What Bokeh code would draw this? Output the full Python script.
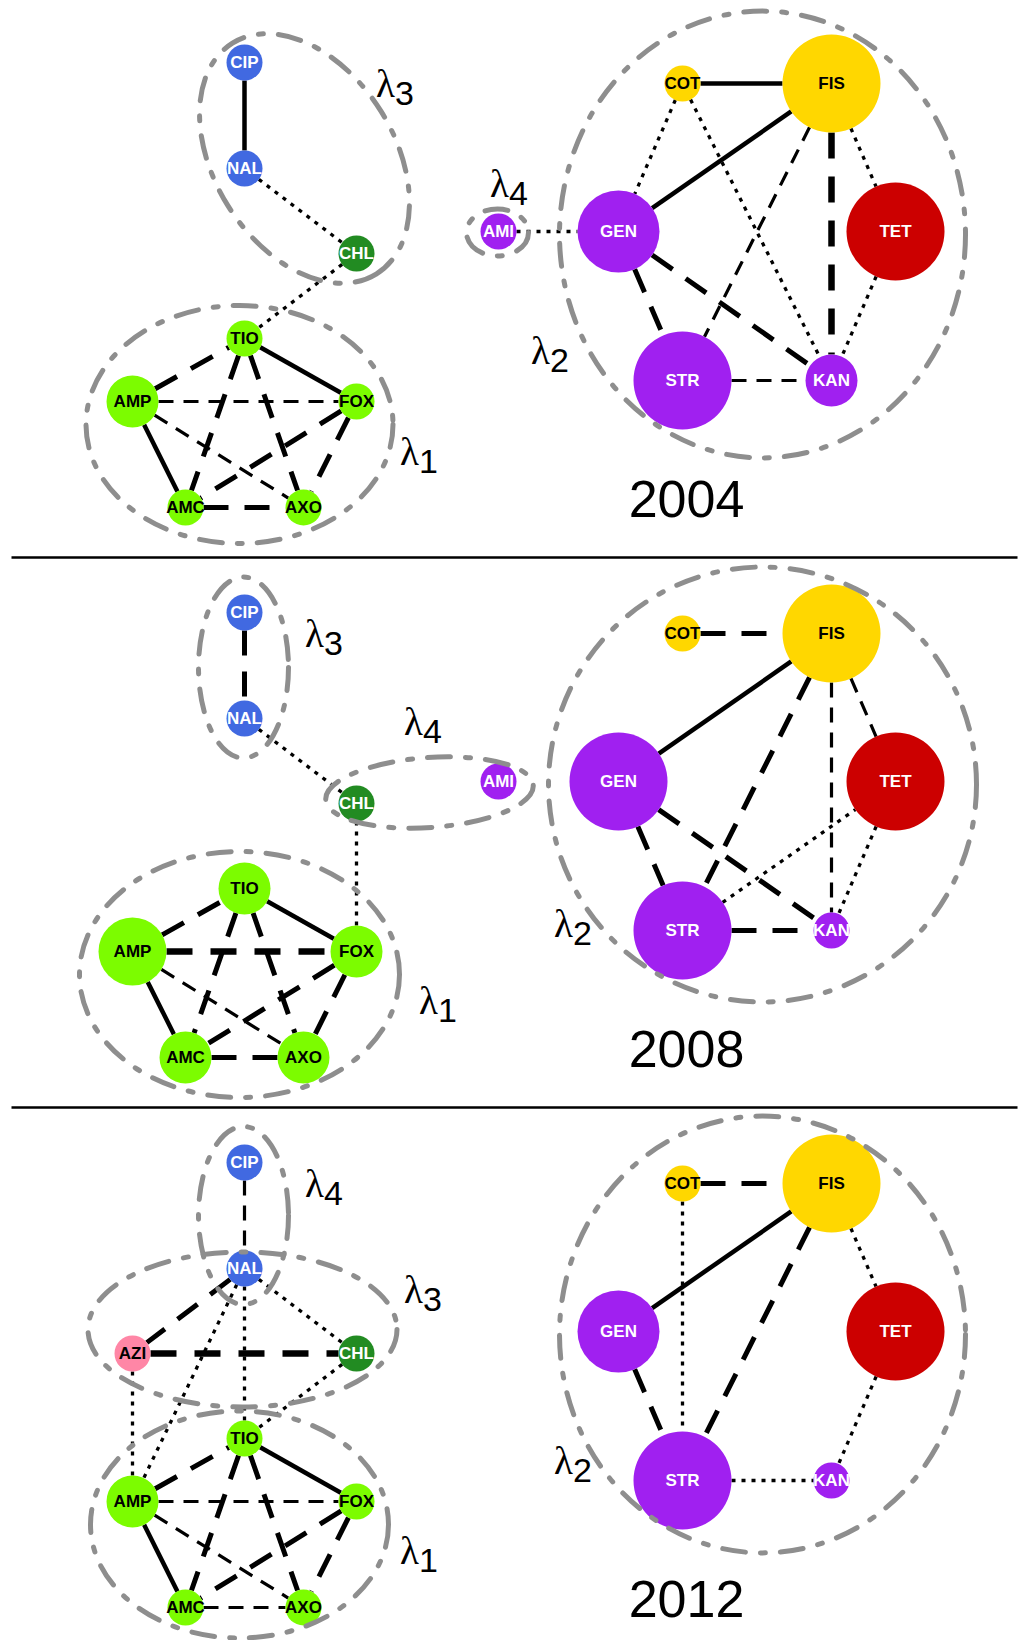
import math
from bokeh.plotting import figure
from bokeh.models import Range1d, ColumnDataSource
from bokeh.core.properties import value
from bokeh.embed import file_html
from bokeh.resources import INLINE

# ------------------------------------------------------------------ data
years = ["2004", "2008", "2012"]

drug_class = {
    "CIP": "quinolone", "NAL": "quinolone",
    "CHL": "phenicol",
    "TIO": "betalactam", "AMP": "betalactam", "FOX": "betalactam",
    "AMC": "betalactam", "AXO": "betalactam",
    "COT": "folate", "FIS": "folate",
    "TET": "tetracycline",
    "GEN": "aminoglycoside", "STR": "aminoglycoside",
    "KAN": "aminoglycoside", "AMI": "aminoglycoside",
    "AZI": "macrolide",
}

# node size (radius) per survey year
node_size_2004 = {"CIP": 18, "NAL": 18, "CHL": 18, "TIO": 18, "AMP": 26,
                  "FOX": 18, "AMC": 18, "AXO": 18, "COT": 18, "FIS": 49,
                  "GEN": 41, "TET": 49, "STR": 49, "KAN": 26, "AMI": 18}
node_size_2008 = {"CIP": 18, "NAL": 18, "CHL": 18, "TIO": 26, "AMP": 34,
                  "FOX": 26, "AMC": 26, "AXO": 26, "COT": 18, "FIS": 49,
                  "GEN": 49, "TET": 49, "STR": 49, "KAN": 18, "AMI": 18}
node_size_2012 = {"CIP": 18, "NAL": 18, "AZI": 18, "CHL": 18, "TIO": 18,
                  "AMP": 26, "FOX": 18, "AMC": 18, "AXO": 18, "COT": 18,
                  "FIS": 49, "GEN": 41, "TET": 49, "STR": 49, "KAN": 18}

# co-resistance links: (drug, drug, strength class)
edges_2004 = [
    ("CIP", "NAL", "solid"), ("NAL", "CHL", "dot"), ("CHL", "TIO", "dot"),
    ("TIO", "FOX", "solid"), ("AMP", "AMC", "solid"), ("AMP", "TIO", "dash"),
    ("TIO", "AMC", "dash"), ("TIO", "AXO", "dash"), ("AMP", "FOX", "thin"),
    ("AMP", "AXO", "thin"), ("FOX", "AMC", "dash"), ("FOX", "AXO", "dash"),
    ("AMC", "AXO", "dash"),
    ("COT", "FIS", "solid"), ("FIS", "GEN", "solid"), ("COT", "GEN", "dot"),
    ("COT", "KAN", "dot"), ("FIS", "STR", "thin"), ("FIS", "KAN", "heavy"),
    ("FIS", "TET", "dot"), ("TET", "KAN", "dot"), ("GEN", "STR", "dash"),
    ("GEN", "KAN", "dash"), ("STR", "KAN", "thin"), ("AMI", "GEN", "dot"),
]
edges_2008 = [
    ("CIP", "NAL", "dash"), ("NAL", "CHL", "dot"), ("CHL", "FOX", "dot"),
    ("TIO", "FOX", "solid"), ("AMP", "AMC", "solid"), ("AMP", "TIO", "dash"),
    ("TIO", "AMC", "dash"), ("TIO", "AXO", "dash"), ("AMP", "FOX", "heavy"),
    ("AMP", "AXO", "thin"), ("FOX", "AMC", "dash"), ("FOX", "AXO", "dash"),
    ("AMC", "AXO", "dash"),
    ("COT", "FIS", "dash"), ("FIS", "GEN", "solid"), ("FIS", "STR", "dash"),
    ("FIS", "KAN", "thin"), ("FIS", "TET", "thin"), ("GEN", "STR", "dash"),
    ("GEN", "KAN", "dash"), ("STR", "KAN", "dash"), ("STR", "TET", "dot"),
    ("TET", "KAN", "dot"),
]
edges_2012 = [
    ("CIP", "NAL", "thin"), ("NAL", "AZI", "dash"), ("NAL", "CHL", "dot"),
    ("NAL", "TIO", "dot"), ("NAL", "AMP", "dot"), ("AZI", "CHL", "heavy"),
    ("AZI", "AMP", "dot"), ("CHL", "TIO", "dot"),
    ("TIO", "FOX", "solid"), ("AMP", "AMC", "solid"), ("AMP", "TIO", "dash"),
    ("TIO", "AMC", "dash"), ("TIO", "AXO", "dash"), ("AMP", "FOX", "thin"),
    ("AMP", "AXO", "thin"), ("FOX", "AMC", "dash"), ("FOX", "AXO", "dash"),
    ("AMC", "AXO", "thin"),
    ("COT", "FIS", "dash"), ("FIS", "GEN", "solid"), ("FIS", "STR", "dash"),
    ("FIS", "TET", "dot"), ("COT", "STR", "dot"), ("GEN", "STR", "dash"),
    ("TET", "KAN", "dot"), ("STR", "KAN", "dot"),
]

node_sizes = {"2004": node_size_2004, "2008": node_size_2008, "2012": node_size_2012}
edges = {"2004": edges_2004, "2008": edges_2008, "2012": edges_2012}

# ---------------------------------------------------------------- layout
W, H = 1024, 1640
panel_top = {"2004": 0, "2008": 550, "2012": 1100}

# the same drug placement is used in every panel
pos = {"CIP": (244, 62), "NAL": (244, 168), "AZI": (132, 253),
       "CHL": (356, 253), "TIO": (244, 338), "AMP": (132, 401),
       "FOX": (356, 401), "AMC": (185, 507), "AXO": (303, 507),
       "COT": (682, 83), "FIS": (831, 83), "GEN": (618, 231),
       "TET": (895, 231), "STR": (682, 380), "KAN": (831, 380),
       "AMI": (498, 231)}

# cluster outlines: (cx, cy, width, height, angle in degrees)
hulls = {
    "2004": [(304, 158, 272, 180, -58), (239, 424, 307, 238, 0),
             (762, 234, 406, 447, 0), (497, 232, 62, 47, 0)],
    "2008": [(243, 117, 90, 181, 0), (429, 242, 208, 70, 4),
             (239, 424, 320, 246, 0), (762, 234, 428, 435, 0)],
    "2012": [(243, 115, 90, 178, 0), (242, 229, 309, 155, 0),
             (239, 424, 298, 227, 0), (762, 234, 406, 437, 0)],
}
# cluster names: (index, x, y)
hull_names = {
    "2004": [("3", 385, 83), ("1", 409, 451), ("4", 499, 183), ("2", 540, 350)],
    "2008": [("3", 314, 83), ("4", 413, 171), ("1", 428, 450), ("2", 563, 373)],
    "2012": [("4", 314, 83), ("3", 413, 189), ("1", 409, 450), ("2", 563, 360)],
}
year_pos = (686, 498)

class_colour = {
    "quinolone": "#4169E1", "phenicol": "#228B22", "betalactam": "#7CFC00",
    "folate": "#FFD700", "tetracycline": "#CC0000",
    "aminoglycoside": "#A020F0", "macrolide": "#FF86A6",
}
dark_classes = {"quinolone", "phenicol", "tetracycline", "aminoglycoside"}

edge_style = {
    "solid": dict(line_width=4.5, line_dash="solid"),
    "dash": dict(line_width=5.0, line_dash="25 16"),
    "heavy": dict(line_width=6.5, line_dash="26 18"),
    "thin": dict(line_width=3.2, line_dash="15 10"),
    "dot": dict(line_width=3.3, line_dash="4 6"),
}

# ----------------------------------------------------------------- figure
p = figure(width=W, height=H, x_range=Range1d(0, W), y_range=Range1d(H, 0),
           x_axis_type=None, y_axis_type=None, toolbar_location=None,
           output_backend="svg", min_border=0, outline_line_color=None)
p.grid.visible = False
p.background_fill_color = "white"

# panel separators
p.segment(x0=[11, 11], y0=[557, 1107], x1=[1017, 1017], y1=[557, 1107],
          line_color="black", line_width=2.5)


def rim_points(a, b, sizes, top):
    """Link end points on the rims of the two drug circles."""
    (xa, ya), (xb, yb) = pos[a], pos[b]
    dx, dy = xb - xa, yb - ya
    d = math.hypot(dx, dy)
    ux, uy = dx / d, dy / d
    ra, rb = sizes[a], sizes[b]
    return (xa + ux * ra, ya + uy * ra + top, xb - ux * rb, yb - uy * rb + top)


for yr in years:
    top = panel_top[yr]
    sizes = node_sizes[yr]

    # links, one glyph per line style
    for kind, style in edge_style.items():
        sel = [rim_points(a, b, sizes, top) for a, b, k in edges[yr] if k == kind]
        if not sel:
            continue
        src = ColumnDataSource(dict(x0=[s[0] for s in sel], y0=[s[1] for s in sel],
                                    x1=[s[2] for s in sel], y1=[s[3] for s in sel]))
        p.segment("x0", "y0", "x1", "y1", source=src, line_color="black",
                  line_cap="butt", **style)

    # drugs
    names = list(sizes.keys())
    nsrc = ColumnDataSource(dict(
        x=[pos[n][0] for n in names],
        y=[pos[n][1] + top for n in names],
        d=[2 * sizes[n] for n in names],
        fill=[class_colour[drug_class[n]] for n in names],
        tc=["white" if drug_class[n] in dark_classes else "black" for n in names],
        label=names))
    p.scatter("x", "y", size="d", fill_color="fill", line_color=None, source=nsrc)
    p.text("x", "y", text="label", text_color="tc", source=nsrc,
           text_font=value("Liberation Sans"), text_font_style="bold",
           text_font_size="17px", text_align="center", text_baseline="middle")

    # cluster outlines
    hs = hulls[yr]
    p.ellipse(x=[h[0] for h in hs], y=[h[1] + top for h in hs],
              width=[h[2] for h in hs], height=[h[3] for h in hs],
              angle=[h[4] for h in hs], angle_units="deg",
              fill_color=None, line_color="#8E8E8E", line_width=5,
              line_dash="23 15 5 15", line_cap="round")

    # cluster names
    hn = hull_names[yr]
    p.text(x=[h[1] for h in hn], y=[h[2] + top for h in hn], text=["λ"] * len(hn),
           text_font=value("Liberation Serif"), text_font_size="39px",
           text_align="center", text_baseline="middle", text_color="black")
    p.text(x=[h[1] + 19 for h in hn], y=[h[2] + top + 10 for h in hn],
           text=[h[0] for h in hn],
           text_font=value("Liberation Sans"), text_font_size="34px",
           text_align="center", text_baseline="middle", text_color="black")

    # year
    p.text(x=[year_pos[0]], y=[year_pos[1] + top], text=[yr],
           text_font=value("Liberation Sans"), text_font_size="52px",
           text_align="center", text_baseline="middle", text_color="black")

open("out.html", "w").write(file_html(p, INLINE))
